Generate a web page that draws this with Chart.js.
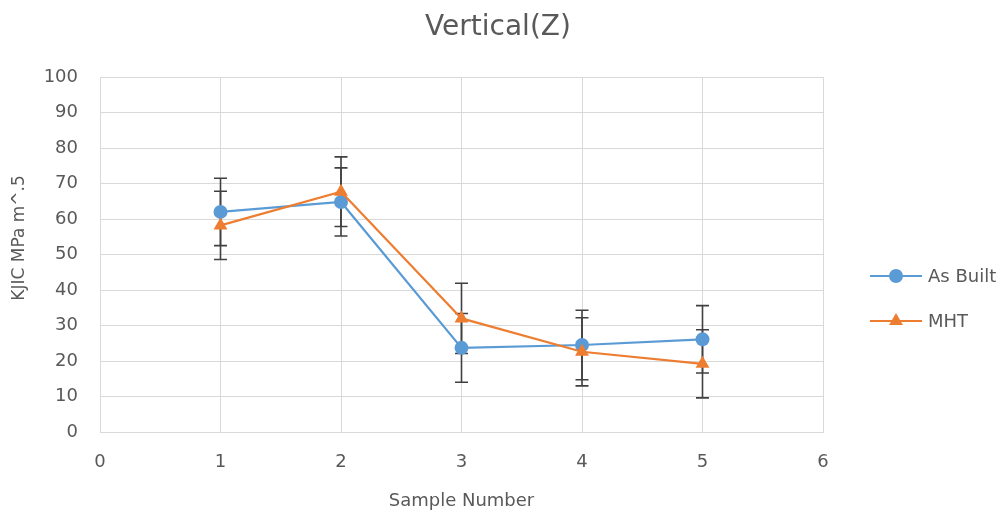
<!DOCTYPE html>
<html>
<head>
<meta charset="utf-8">
<script src="https://cdn.jsdelivr.net/npm/chart.js@4"></script>
<style>
html,body{margin:0;padding:0;background:#fff;}
#wrap{width:1005px;height:516px;position:relative;}
</style>
</head>
<body>
<div id="wrap"><canvas id="c" width="1005" height="516"></canvas></div>
<script>
const chartTitle = 'Vertical(Z)';
const xTitle = 'Sample Number';
const yTitle = 'KJIC MPa m^.5';
const seriesNames = ['As Built', 'MHT'];
const samples = [1, 2, 3, 4, 5];
const asBuilt = [62.0, 64.8, 23.7, 24.5, 26.1];
const asBuiltErr = [9.5, 9.6, 9.7, 9.8, 9.5];
const mht = [58.2, 67.7, 32.0, 22.6, 19.2];
const mhtErr = [9.6, 9.8, 9.9, 9.6, 9.6];
const xTicks = [0, 1, 2, 3, 4, 5, 6];
const yTicks = [0, 10, 20, 30, 40, 50, 60, 70, 80, 90, 100];

const BLUE = '#5B9BD5', ORANGE = '#ED7D31', TXT = '#595959', GRID = '#D9D9D9';
const FONT = 'DejaVu Sans';

function pts(ys){ return samples.map((x,i)=>({x:x, y:ys[i]})); }

const errorBars = {
  id:'errorBars',
  beforeDatasetsDraw(chart){
    const {ctx, scales:{x, y}} = chart;
    const sets = [[asBuilt, asBuiltErr],[mht, mhtErr]];
    ctx.save();
    ctx.strokeStyle = '#404040';
    ctx.lineWidth = 1.6;
    sets.forEach(([vals, errs])=>{
      samples.forEach((s,i)=>{
        const px = x.getPixelForValue(s);
        const top = y.getPixelForValue(vals[i]+errs[i]);
        const bot = y.getPixelForValue(vals[i]-errs[i]);
        ctx.beginPath();
        ctx.moveTo(px, top); ctx.lineTo(px, bot);
        ctx.moveTo(px-6.5, top); ctx.lineTo(px+6.5, top);
        ctx.moveTo(px-6.5, bot); ctx.lineTo(px+6.5, bot);
        ctx.stroke();
      });
    });
    ctx.restore();
  }
};

const texts = {
  id:'texts',
  afterDraw(chart){
    const ctx = chart.ctx;
    ctx.save();
    ctx.fillStyle = TXT;
    ctx.textAlign = 'center';
    ctx.textBaseline = 'middle';
    ctx.font = '28px "' + FONT + '"';
    ctx.fillText(chartTitle, 498, 28);
    ctx.translate(20, 238);
    ctx.rotate(-Math.PI/2);
    ctx.font = '17px "' + FONT + '"';
    ctx.fillText(yTitle, 0, 0);
    ctx.restore();
  }
};

const customLegend = {
  id:'customLegend',
  afterDraw(chart){
    const ctx = chart.ctx;
    const items = [
      {name:seriesNames[0], color:BLUE, style:'circle', r:7, y:276},
      {name:seriesNames[1], color:ORANGE, style:'triangle', r:8, y:321}
    ];
    ctx.save();
    items.forEach(it=>{
      ctx.strokeStyle = it.color; ctx.lineWidth = 2;
      ctx.beginPath(); ctx.moveTo(870, it.y); ctx.lineTo(922, it.y); ctx.stroke();
      ctx.fillStyle = it.color;
      ctx.beginPath();
      if(it.style==='circle'){ ctx.arc(896, it.y, it.r, 0, Math.PI*2); }
      else {
        const r = it.r;
        ctx.moveTo(896, it.y - r);
        ctx.lineTo(896 + r*Math.sqrt(3)/2, it.y + r/2);
        ctx.lineTo(896 - r*Math.sqrt(3)/2, it.y + r/2);
        ctx.closePath();
      }
      ctx.fill();
      ctx.fillStyle = TXT;
      ctx.font = '18px "' + FONT + '"';
      ctx.textBaseline = 'middle';
      ctx.textAlign = 'left';
      ctx.fillText(it.name, 928, it.y + 1);
    });
    ctx.restore();
  }
};

new Chart(document.getElementById('c'), {
  type:'line',
  data:{
    datasets:[
      {label:seriesNames[0], data:pts(asBuilt), borderColor:BLUE, backgroundColor:BLUE,
       borderWidth:2.2, pointStyle:'circle', pointRadius:7, pointHoverRadius:7,
       pointBorderWidth:0, order:1, tension:0},
      {label:seriesNames[1], data:pts(mht), borderColor:ORANGE, backgroundColor:ORANGE,
       borderWidth:2.2, pointStyle:'triangle', pointRadius:8, pointHoverRadius:8,
       pointBorderWidth:0, order:0, tension:0}
    ]
  },
  options:{
    responsive:false,
    animation:false,
    events:[],
    layout:{padding:{left:0, right:182, top:77, bottom:0}},
    plugins:{
      legend:{display:false},
      tooltip:{enabled:false},
      title:{display:false}
    },
    scales:{
      x:{type:'linear', min:0, max:6,
        afterBuildTicks(s){ s.ticks = xTicks.map(v=>({value:v})); },
        afterFit(s){ s.height = 84; },
        grid:{color:GRID, lineWidth:1, drawTicks:false},
        border:{color:GRID, width:1},
        ticks:{color:TXT, font:{family:FONT, size:18}, padding:20},
        title:{display:true, text:xTitle, color:TXT, font:{family:FONT, size:18}, padding:{top:0, bottom:4}}
      },
      y:{type:'linear', min:0, max:100,
        afterBuildTicks(s){ s.ticks = yTicks.map(v=>({value:v})); },
        afterFit(s){ s.width = 100; },
        grid:{color:GRID, lineWidth:1, drawTicks:false},
        border:{color:GRID, width:1},
        ticks:{color:TXT, font:{family:FONT, size:18}, padding:22},
        title:{display:false}
      }
    }
  },
  plugins:[errorBars, customLegend, texts]
});
</script>
</body>
</html>
